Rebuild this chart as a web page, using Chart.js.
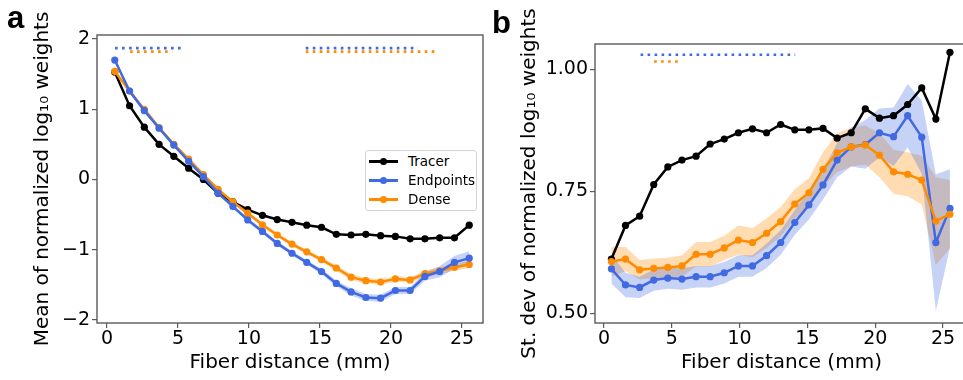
<!DOCTYPE html>
<html>
<head>
<meta charset="utf-8">
<script src="https://cdn.jsdelivr.net/npm/chart.js@4.4.0/dist/chart.umd.min.js"></script>
<style>
html, body { margin: 0; padding: 0; background: #fff; }
body { width: 963px; height: 380px; overflow: hidden; position: relative; font-family: "DejaVu Sans", sans-serif; }
canvas { position: absolute; top: 0; }
#chartA { left: 0; }
#chartB { left: 490px; }
.panel { position: absolute; font: bold 31px "Liberation Sans", Arial, sans-serif; line-height: 31px; color: #000; }
#legend { position: absolute; left: 365px; top: 150px; width: 110px; height: 59px; border: 1px solid #d4d4d4; border-radius: 3px; background: #fff; }
#legend .row { position: absolute; left: 0; height: 19px; width: 110px; }
#legend .ln { position: absolute; left: 3px; top: 8px; width: 29px; height: 3px; }
#legend .mk { position: absolute; left: 14px; top: 6px; width: 7px; height: 7px; border-radius: 50%; }
#legend .tx { position: absolute; left: 42px; top: 0; font-size: 13.5px; line-height: 19px; color: #000; }
</style>
</head>
<body>
<canvas id="chartA" width="490" height="380"></canvas>
<canvas id="chartB" width="490" height="380"></canvas>
<div class="panel" style="left:7px;top:2px;">a</div>
<div class="panel" style="left:492px;top:7px;">b</div>
<div id="legend"></div>
<script>
// fiber distance bins (mm)
const distance = [0.55, 1.59, 2.63, 3.67, 4.71, 5.75, 6.79, 7.83, 8.87, 9.91, 10.95, 11.99, 13.03,
  14.07, 15.11, 16.15, 17.19, 18.23, 19.27, 20.31, 21.35, 22.39, 23.43, 24.47, 25.51];

// panel a: mean of normalized log10 weights
const tracerMean = [1.53, 1.05, 0.745, 0.50, 0.33, 0.16, 0.0, -0.195, -0.32, -0.43, -0.51, -0.57, -0.61,
  -0.65, -0.68, -0.78, -0.79, -0.78, -0.80, -0.81, -0.845, -0.845, -0.83, -0.83, -0.65];
const endpointsMean = [1.70, 1.26, 0.98, 0.73, 0.49, 0.26, 0.04, -0.195, -0.385, -0.575, -0.74, -0.91, -1.05,
  -1.18, -1.31, -1.48, -1.60, -1.68, -1.69, -1.58, -1.58, -1.38, -1.31, -1.18, -1.12];
const denseMean = [1.54, 1.26, 1.00, 0.74, 0.50, 0.29, 0.07, -0.14, -0.32, -0.48, -0.645, -0.79, -0.92,
  -1.03, -1.14, -1.26, -1.39, -1.44, -1.46, -1.415, -1.43, -1.34, -1.30, -1.25, -1.21];
const endpointsMeanErr = [0.03, 0.02, 0.02, 0.02, 0.02, 0.02, 0.02, 0.02, 0.02, 0.03, 0.03, 0.03, 0.03,
  0.03, 0.04, 0.04, 0.05, 0.05, 0.05, 0.05, 0.05, 0.06, 0.08, 0.09, 0.10];
const denseMeanErr = [0.03, 0.02, 0.02, 0.02, 0.02, 0.02, 0.02, 0.02, 0.02, 0.03, 0.03, 0.03, 0.03,
  0.03, 0.03, 0.04, 0.04, 0.04, 0.04, 0.04, 0.04, 0.04, 0.05, 0.05, 0.05];

// panel b: st. dev of normalized log10 weights
const tracerSd = [0.611, 0.680, 0.699, 0.764, 0.800, 0.814, 0.822, 0.847, 0.857, 0.870, 0.878, 0.870, 0.887,
  0.876, 0.876, 0.879, 0.859, 0.870, 0.919, 0.900, 0.905, 0.928, 0.962, 0.898, 1.035];
const endpointsSd = [0.591, 0.558, 0.553, 0.568, 0.572, 0.570, 0.575, 0.575, 0.583, 0.597, 0.597, 0.618, 0.645,
  0.686, 0.722, 0.763, 0.814, 0.841, 0.846, 0.870, 0.862, 0.905, 0.861, 0.645, 0.715];
const denseSd = [0.606, 0.611, 0.589, 0.592, 0.594, 0.597, 0.621, 0.621, 0.634, 0.650, 0.645, 0.664, 0.688,
  0.724, 0.747, 0.795, 0.829, 0.841, 0.845, 0.824, 0.790, 0.785, 0.773, 0.689, 0.703];
const endpointsSdErr = [0.03, 0.025, 0.022, 0.022, 0.022, 0.022, 0.022, 0.022, 0.022, 0.022, 0.022, 0.025, 0.025,
  0.025, 0.03, 0.03, 0.035, 0.04, 0.05, 0.05, 0.06, 0.065, 0.075, 0.14, 0.08];
const denseSdErr = [0.03, 0.025, 0.02, 0.02, 0.02, 0.022, 0.025, 0.025, 0.025, 0.03, 0.03, 0.03, 0.03,
  0.03, 0.03, 0.035, 0.04, 0.04, 0.04, 0.045, 0.045, 0.045, 0.05, 0.09, 0.07];

// significance markers: [start, end] in mm, and their heights
const sigEndpointsA = [[0.57, 5.5], [14.0, 21.9]];
const sigDenseA = [[1.63, 4.6], [14.0, 23.3]];
const sigEndpointsB = [[2.7, 14.1]];
const sigDenseB = [[3.7, 5.7]];
const sigLevelsA = [1.87, 1.82];
const sigLevelsB = [1.030, 1.016];

const xTicks = [0, 5, 10, 15, 20, 25];
const yTicksA = [-2, -1, 0, 1, 2];
const yTicksB = [0.50, 0.75, 1.00];

const seriesNames = ['Tracer', 'Endpoints', 'Dense'];
const BLACK = '#000000', BLUE = '#4169e1', ORANGE = '#ff8c00';
const seriesColors = [BLACK, BLUE, ORANGE];
const FONT = '"DejaVu Sans", sans-serif';

function pts(xs, ys) {
  return xs.map((x, i) => ({ x: x, y: ys[i] }));
}

function series(ys, color, order) {
  return {
    data: pts(distance, ys), borderColor: color, backgroundColor: color,
    pointBackgroundColor: color, pointBorderColor: color, pointBorderWidth: 0,
    borderWidth: 2.5, pointRadius: 3.6, tension: 0, fill: false, order: order
  };
}

// two datasets, lower edge then upper edge filled down to it
function band(mean, err, color) {
  const clear = 'rgba(0,0,0,0)';
  return [
    { data: pts(distance, mean.map((v, i) => v - err[i])), borderColor: clear, borderWidth: 0,
      pointRadius: 0, fill: false, order: 10 },
    { data: pts(distance, mean.map((v, i) => v + err[i])), borderColor: clear, borderWidth: 0,
      pointRadius: 0, fill: '-1', backgroundColor: color, order: 10 }
  ];
}

function sig(ranges, y, color) {
  return ranges.map(r => ({
    data: [{ x: r[0], y: y }, { x: r[1], y: y }], borderColor: color, borderWidth: 2.6,
    borderDash: [2.6, 4.4], borderCapStyle: 'butt', pointRadius: 0, fill: false, order: 5
  }));
}

const frame = {
  id: 'frame',
  afterDraw(chart) {
    const a = chart.chartArea, c = chart.ctx;
    c.save();
    c.strokeStyle = '#5a5a5a';
    c.lineWidth = 1.4;
    c.strokeRect(a.left, a.top, a.right - a.left, a.bottom - a.top);
    c.restore();
  }
};

function makeChart(id, datasets, cfg) {
  return new Chart(document.getElementById(id), {
    type: 'line',
    data: { datasets: datasets },
    options: {
      responsive: false,
      animation: false,
      events: [],
      layout: { padding: cfg.padding },
      plugins: { legend: { display: false }, tooltip: { enabled: false } },
      scales: {
        x: {
          type: 'linear', min: cfg.xMin, max: cfg.xMax,
          afterFit: s => { s.height = 57; },
          afterBuildTicks: s => { s.ticks = xTicks.map(v => ({ value: v })); },
          grid: { drawOnChartArea: false, drawTicks: true, tickLength: 5, color: '#5a5a5a', lineWidth: 1.2 },
          border: { display: false },
          ticks: { color: '#000', font: { size: 19, family: FONT }, padding: 0, maxRotation: 0, autoSkip: false },
          title: { display: true, text: 'Fiber distance (mm)', color: '#000',
            font: { size: 20, family: FONT }, padding: { top: 0, bottom: 5 } }
        },
        y: {
          type: 'linear', min: cfg.yMin, max: cfg.yMax,
          afterFit: s => { s.width = cfg.yWidth; },
          afterBuildTicks: s => { s.ticks = cfg.yTicks.map(v => ({ value: v })); },
          grid: { drawOnChartArea: false, drawTicks: true, tickLength: 5, color: '#5a5a5a', lineWidth: 1.2 },
          border: { display: false },
          ticks: { color: '#000', font: { size: 19, family: FONT }, padding: 2, autoSkip: false,
            callback: cfg.yFormat },
          title: { display: true, text: cfg.yTitle, color: '#000',
            font: { size: 20, family: FONT }, padding: { top: cfg.yTitlePad, bottom: 0 } }
        }
      }
    },
    plugins: [frame]
  });
}

const datasetsA = [
  ...band(endpointsMean, endpointsMeanErr, 'rgba(65,105,225,0.3)'),
  ...band(denseMean, denseMeanErr, 'rgba(255,140,0,0.3)'),
  ...sig(sigEndpointsA, sigLevelsA[0], BLUE),
  ...sig(sigDenseA, sigLevelsA[1], ORANGE),
  series(tracerMean, BLACK, 3),
  series(denseMean, ORANGE, 2),
  series(endpointsMean, BLUE, 1)
];

const datasetsB = [
  ...band(endpointsSd, endpointsSdErr, 'rgba(65,105,225,0.3)'),
  ...band(denseSd, denseSdErr, 'rgba(255,140,0,0.3)'),
  ...sig(sigEndpointsB, sigLevelsB[0], BLUE),
  ...sig(sigDenseB, sigLevelsB[1], ORANGE),
  series(tracerSd, BLACK, 3),
  series(endpointsSd, BLUE, 2),
  series(denseSd, ORANGE, 1)
];

makeChart('chartA', datasetsA, {
  padding: { left: 0, top: 35, right: 7, bottom: 0 },
  xMin: -0.70, xMax: 26.48, yMin: -2.043, yMax: 2.057,
  yWidth: 97, yTicks: yTicksA, yTitlePad: 31,
  yTitle: 'Mean of normalized log\u2081\u2080 weights',
  yFormat: v => String(v).replace('-', '\u2212')
});

makeChart('chartB', datasetsB, {
  padding: { left: 0, top: 44, right: 12, bottom: 0 },
  xMin: -0.66, xMax: 26.84, yMin: 0.480, yMax: 1.052,
  yWidth: 105, yTicks: yTicksB, yTitlePad: 28,
  yTitle: 'St. dev of normalized log\u2081\u2080 weights',
  yFormat: v => v.toFixed(2)
});

// legend box inside panel a
const legend = document.getElementById('legend');
seriesNames.forEach((name, i) => {
  const row = document.createElement('div');
  row.className = 'row';
  row.style.top = (i * 19 + 0.5) + 'px';
  row.innerHTML = '<div class="ln" style="background:' + seriesColors[i] + '"></div>' +
    '<div class="mk" style="background:' + seriesColors[i] + '"></div>' +
    '<div class="tx">' + name + '</div>';
  legend.appendChild(row);
});
</script>
</body>
</html>
